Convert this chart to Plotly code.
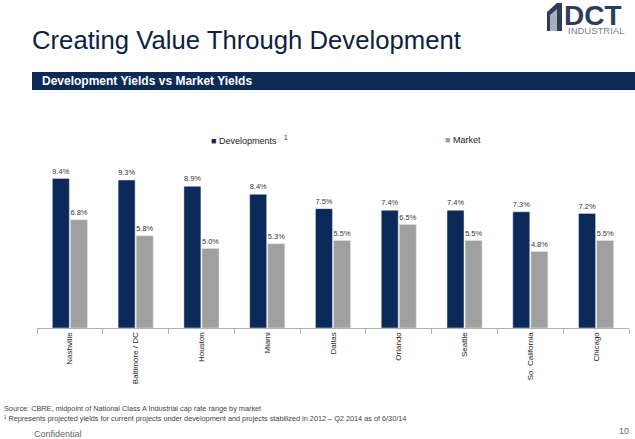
import plotly.graph_objects as go

categories = ["Nashville", "Baltimore / DC", "Houston", "Miami", "Dallas",
              "Orlando", "Seattle", "So. California", "Chicago"]
developments = [9.4, 9.3, 8.9, 8.4, 7.5, 7.4, 7.4, 7.3, 7.2]
market = [6.8, 5.8, 5.0, 5.3, 5.5, 6.5, 5.5, 4.8, 5.5]

NAVY = "#0b2a5a"
GRAY = "#a0a0a0"
W, H = 635, 439
ML, MR, MT, MB = 37, 6, 137, 111

def px(x):
    return (x - ML) / (W - ML - MR)

def py(y):
    return (H - MB - y) / (H - MT - MB)

fig = go.Figure()
fig.add_trace(go.Bar(x=categories, y=developments, name="Developments",
                     marker_color=NAVY,
                     text=[f"{v:.1f}%" for v in developments],
                     textposition="outside", cliponaxis=False,
                     textfont=dict(size=8, color="#333333")))
fig.add_trace(go.Bar(x=categories, y=market, name="Market",
                     marker_color=GRAY,
                     text=[f"{v:.1f}%" for v in market],
                     textposition="outside", cliponaxis=False,
                     textfont=dict(size=8, color="#333333")))

fig.update_layout(
    width=W, height=H,
    margin=dict(l=ML, r=MR, t=MT, b=MB),
    paper_bgcolor="white", plot_bgcolor="white",
    font=dict(family="Arial, Liberation Sans, sans-serif", color="#333333"),
    barmode="group", bargap=0.45, bargroupgap=0.06,
    showlegend=False,
    xaxis=dict(showline=True, linecolor="#b0b0b0", linewidth=1,
               ticks="outside", tickson="boundaries", ticklen=5,
               tickcolor="#b0b0b0", tickangle=-90,
               tickfont=dict(size=8, color="#222222"), showgrid=False),
    yaxis=dict(range=[0, 12], visible=False, showgrid=False),
)

shapes = []
annotations = []
# header band
shapes.append(dict(type="rect", xref="paper", yref="paper",
                   x0=px(32), x1=px(635), y0=py(90), y1=py(72),
                   fillcolor="#0d2a55", line=dict(width=0), layer="below"))
annotations.append(dict(xref="paper", yref="paper", x=px(40), y=py(81),
                        xanchor="left", yanchor="middle", showarrow=False,
                        text="<b>Development Yields vs Market Yields</b>",
                        font=dict(size=12, color="white")))
# title
annotations.append(dict(xref="paper", yref="paper", x=px(30), y=py(40),
                        xanchor="left", yanchor="middle", showarrow=False,
                        text="Creating Value Through Development",
                        font=dict(size=25.7, color="#0d2240")))
# legend
annotations.append(dict(xref="paper", yref="paper", x=px(209), y=py(140),
                        xanchor="left", yanchor="middle", showarrow=False,
                        text=f"<span style='color:{NAVY}'>■</span> Developments   <sup>1</sup>",
                        font=dict(size=9, color="#222222")))
annotations.append(dict(xref="paper", yref="paper", x=px(443), y=py(140),
                        xanchor="left", yanchor="middle", showarrow=False,
                        text=f"<span style='color:{GRAY}'>■</span> Market",
                        font=dict(size=9, color="#222222")))
# footnotes
annotations.append(dict(xref="paper", yref="paper", x=px(2), y=py(408),
                        xanchor="left", yanchor="middle", showarrow=False,
                        text="Source: CBRE, midpoint of National Class A Industrial cap rate range by market",
                        font=dict(size=7.3, color="#444444")))
annotations.append(dict(xref="paper", yref="paper", x=px(2), y=py(418),
                        xanchor="left", yanchor="middle", showarrow=False,
                        text="¹ Represents projected yields for current projects under development and projects stabilized in 2012 – Q2 2014 as of 6/30/14",
                        font=dict(size=7.3, color="#444444")))
annotations.append(dict(xref="paper", yref="paper", x=px(32), y=py(434),
                        xanchor="left", yanchor="middle", showarrow=False,
                        text="Confidential", font=dict(size=9, color="#666666")))
annotations.append(dict(xref="paper", yref="paper", x=px(631), y=py(431),
                        xanchor="right", yanchor="middle", showarrow=False,
                        text="10", font=dict(size=9, color="#666666")))
# logo
def P(x, y):
    return f"{px(x)},{py(y)}"
shapes.append(dict(type="path", xref="paper", yref="paper",
                   path=f"M {P(547,12)} L {P(557,3)} L {P(562,3)} L {P(562,31)} L {P(547,31)} Z",
                   fillcolor="#2c3e5c", line=dict(width=0)))
shapes.append(dict(type="path", xref="paper", yref="paper",
                   path=f"M {P(550,15)} L {P(557,9)} L {P(557,31)} L {P(550,31)} Z",
                   fillcolor="#a9b0ba", line=dict(width=0)))
annotations.append(dict(xref="paper", yref="paper", x=px(562), y=py(15),
                        xanchor="left", yanchor="middle", showarrow=False,
                        text="<b>DCT</b>", font=dict(size=28, color="#2c3e5c")))
annotations.append(dict(xref="paper", yref="paper", x=px(566), y=py(30),
                        xanchor="left", yanchor="middle", showarrow=False,
                        text="INDUSTRIAL", font=dict(size=9.5, color="#7a8290")))
fig.update_layout(shapes=shapes, annotations=annotations)

fig.write_html("out.html")
